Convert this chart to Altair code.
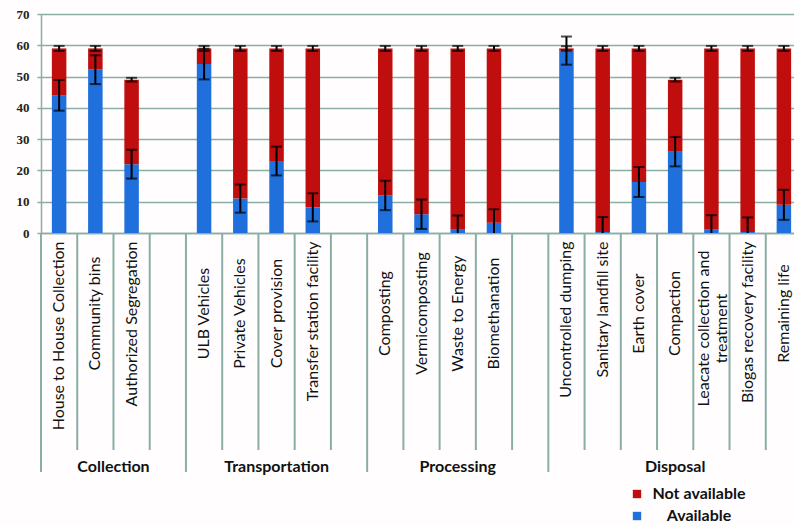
import altair as alt
import pandas as pd

categories = [
    "House to House Collection", "Community bins", "Authorized Segregation", " ",
    "ULB Vehicles", "Private Vehicles", "Cover provision", "Transfer station facility", "  ",
    "Composting", "Vermicomposting", "Waste to Energy", "Biomethanation", "   ",
    "Uncontrolled dumping", "Sanitary landfill site", "Earth cover", "Compaction",
    "Leacate collection and treatment", "Biogas recovery facility", "Remaining life",
]
groups = (["Collection"] * 4 + ["Transportation"] * 5 + ["Processing"] * 5
          + ["Disposal"] * 7)
available = [44, 52.2, 22, None, 54, 11, 23, 8.2, None, 12, 6, 1, 3.3, None,
             58.3, 0.3, 16.3, 26, 1, 0.3, 9]
total = [59, 59, 49, None, 59, 59, 59, 59, None, 59, 59, 59, 59, None,
         59, 59, 59, 49, 59, 59, 59]
err_available = [4.9, 4.6, 4.6, None, 4.9, 4.5, 4.6, 4.5, None, 4.7, 4.7, 4.6, 4.3, None,
                 4.5, 4.8, 4.8, 4.7, 4.7, 4.7, 4.8]
err_not_available = [0.8, 0.8, 0.6, None, 0.8, 0.8, 0.8, 0.8, None, 0.8, 0.8, 0.8, 0.8, None,
                     0.7, 0.8, 0.8, 0.6, 0.8, 0.8, 0.8]
status_names = ["Not available", "Available"]

RED = "#c00d0d"
BLUE = "#1f6fdc"
TEAL = "#8aaea6"
W, H = 753, 219
SLOT_RANGE = 761

bar_rows, err_rows = [], []
for c, a, t, ea, en in zip(categories, available, total, err_available, err_not_available):
    if a is None:
        continue
    bar_rows.append({"cat": c, "status": "Available", "lo": 0, "hi": a})
    bar_rows.append({"cat": c, "status": "Not available", "lo": a, "hi": t})
    err_rows.append({"cat": c, "lo": a - ea, "hi": a + ea})
    err_rows.append({"cat": c, "lo": t - en, "hi": t + en})
bars_df = pd.DataFrame(bar_rows)
err_df = pd.DataFrame(err_rows)

sep_rows = []
for i, (c, g) in enumerate(zip(categories, groups)):
    sep_rows.append({"cat": c, "long": i == 0 or groups[i - 1] != g})
sep_df = pd.DataFrame(sep_rows)

grp_rows_mid, grp_rows_edge = [], []
order = []
for g in groups:
    if g not in order:
        order.append(g)
for g in order:
    idx = [i for i, gg in enumerate(groups) if gg == g]
    n = len(idx)
    if n % 2 == 0:
        grp_rows_edge.append({"cat": categories[idx[n // 2 - 1]], "group": g})
    else:
        grp_rows_mid.append({"cat": categories[idx[n // 2]], "group": g})

LONG = "length(datum.label) >= 20 && length(datum.label) < 30"
TWO_LINE = "length(datum.label) >= 30"

xscale = alt.Scale(domain=categories, range=[0, SLOT_RANGE], paddingInner=0, paddingOuter=0)
xaxis = alt.Axis(
    title=None, labelAngle=270, ticks=False, grid=False, domain=True,
    domainColor=TEAL, domainWidth=1.5,
    labelFont="Lato", labelFontSize=16, labelColor="#111111",
    labelBaseline="middle", labelLimit=400, labelOverlap=False, labelLineHeight=18,
    labelAlign={"condition": {"test": LONG, "value": "right"}, "value": "center"},
    labelPadding={"condition": [{"test": TWO_LINE, "value": 95}, {"test": LONG, "value": 8}],
                  "value": 80},
    labelOffset={"condition": {"test": TWO_LINE, "value": -7}, "value": 0},
    labelExpr="datum.label == 'Leacate collection and treatment' ? ['Leacate collection and', 'treatment'] : datum.label",
)


def X(band=None):
    if band is None:
        return alt.X("cat:N", scale=xscale, axis=xaxis, sort=categories)
    return alt.X("cat:N", scale=xscale, axis=xaxis, sort=categories, bandPosition=band)


yscale = alt.Scale(domain=[0, 70], nice=False)
yaxis = alt.Axis(
    title=None, values=[0, 10, 20, 30, 40, 50, 60, 70], grid=True,
    gridColor=TEAL, gridWidth=1.5, domainColor=TEAL, domainWidth=1.5,
    tickColor=TEAL, tickSize=4, tickWidth=1.5,
    labelFont="Liberation Serif", labelFontWeight="bold", labelFontSize=13,
    labelColor="#222222", labelPadding=8,
)

bars = alt.Chart(bars_df).mark_bar(width=alt.RelativeBandSize(0.4)).encode(
    x=X(),
    y=alt.Y("lo:Q", scale=yscale, axis=yaxis),
    y2="hi:Q",
    color=alt.Color(
        "status:N",
        scale=alt.Scale(domain=status_names, range=[RED, BLUE]),
        legend=alt.Legend(
            title=None, orient="none", legendX=588, legendY=472,
            symbolType="square", symbolSize=70, symbolStrokeWidth=0,
            labelFont="Lato", labelFontSize=16, labelFontWeight="bold",
            labelColor="#111111", labelAlign="center", labelOffset=54,
            rowPadding=6, padding=0,
        ),
    ),
)

err_rule = alt.Chart(err_df).mark_rule(color="black", strokeWidth=2, clip=True).encode(
    x=X(), y=alt.Y("lo:Q", scale=yscale, axis=yaxis), y2="hi:Q"
)
cap_lo = alt.Chart(err_df).mark_tick(color="black", thickness=2, size=11, clip=True).encode(
    x=X(), y=alt.Y("lo:Q", scale=yscale, axis=yaxis)
)
cap_hi = alt.Chart(err_df).mark_tick(color="black", thickness=2, size=11, clip=True).encode(
    x=X(), y=alt.Y("hi:Q", scale=yscale, axis=yaxis)
)

sep_short = alt.Chart(sep_df).transform_filter("!datum.long").mark_rule(
    color=TEAL, strokeWidth=2
).encode(x=X(0), y=alt.value(H), y2=alt.value(H + 217))
sep_long = alt.Chart(sep_df).transform_filter("datum.long").mark_rule(
    color=TEAL, strokeWidth=2
).encode(x=X(0), y=alt.value(H), y2=alt.value(H + 239))

grp_mid = alt.Chart(pd.DataFrame(grp_rows_mid)).mark_text(
    font="Lato", fontSize=16, fontWeight="bold", color="#111111", baseline="middle", align="center"
).encode(x=X(0.5), y=alt.value(H + 234), text="group:N")
grp_edge = alt.Chart(pd.DataFrame(grp_rows_edge)).mark_text(
    font="Lato", fontSize=16, fontWeight="bold", color="#111111", baseline="middle", align="center"
).encode(x=X(1), y=alt.value(H + 234), text="group:N")

chart = alt.layer(
    bars, err_rule, cap_lo, cap_hi, sep_short, sep_long, grp_mid, grp_edge
).properties(
    width=W, height=H,
    autosize=alt.AutoSizeParams(type="none"),
    padding={"left": 41, "top": 14, "right": 0, "bottom": 525 - 14 - H},
    background="#fffdfd",
).configure_view(stroke=None)

chart.save("out.html", embed_options={"renderer": "svg", "actions": False})
